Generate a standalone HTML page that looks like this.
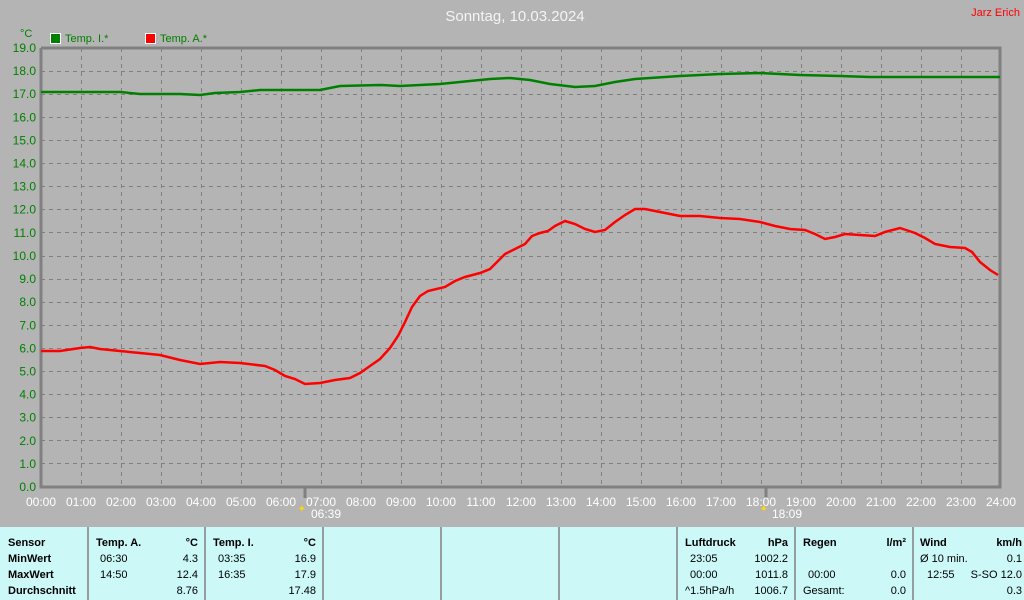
<!DOCTYPE html>
<html><head><meta charset="utf-8"><style>
html,body{margin:0;padding:0;background:#b4b4b4;width:1024px;height:600px;overflow:hidden;font-family:"Liberation Sans",sans-serif}
svg{position:absolute;left:0;top:0}
</style></head><body>
<svg width="1024" height="600" xmlns="http://www.w3.org/2000/svg" font-family="Liberation Sans, sans-serif">
<rect width="1024" height="600" fill="#b4b4b4"/>
<text x="515" y="21" fill="#f4f4f4" font-size="15" text-anchor="middle">Sonntag, 10.03.2024</text>
<text x="1020" y="16" fill="#ff0000" font-size="11" text-anchor="end">Jarz Erich</text>
<text x="20" y="37" fill="#008000" font-size="11">°C</text>
<rect x="50.5" y="33.5" width="10" height="10" fill="#008000" stroke="#fff"/>
<text x="65" y="42" fill="#008000" font-size="11">Temp. I.*</text>
<rect x="145.5" y="33.5" width="10" height="10" fill="#ff0000" stroke="#fff"/>
<text x="160" y="42" fill="#008000" font-size="11">Temp. A.*</text>
<g stroke="#808080" stroke-width="1" stroke-dasharray="4,4">
<line x1="41" x2="1000" y1="71.5" y2="71.5"/><line x1="41" x2="1000" y1="94.5" y2="94.5"/><line x1="41" x2="1000" y1="117.5" y2="117.5"/><line x1="41" x2="1000" y1="140.5" y2="140.5"/><line x1="41" x2="1000" y1="163.5" y2="163.5"/><line x1="41" x2="1000" y1="186.5" y2="186.5"/><line x1="41" x2="1000" y1="209.5" y2="209.5"/><line x1="41" x2="1000" y1="232.5" y2="232.5"/><line x1="41" x2="1000" y1="256.5" y2="256.5"/><line x1="41" x2="1000" y1="279.5" y2="279.5"/><line x1="41" x2="1000" y1="302.5" y2="302.5"/><line x1="41" x2="1000" y1="325.5" y2="325.5"/><line x1="41" x2="1000" y1="348.5" y2="348.5"/><line x1="41" x2="1000" y1="371.5" y2="371.5"/><line x1="41" x2="1000" y1="394.5" y2="394.5"/><line x1="41" x2="1000" y1="417.5" y2="417.5"/><line x1="41" x2="1000" y1="440.5" y2="440.5"/><line x1="41" x2="1000" y1="463.5" y2="463.5"/>
</g>
<g stroke="#808080" stroke-width="1" stroke-dasharray="4,4" id="vg"></g>
<g fill="none" stroke="#808080" stroke-width="3">
<polyline points="41,48 1000,48 1000,487 41,487 41,48"/>
</g>
<line x1="305" y1="487" x2="305" y2="498" stroke="#808080" stroke-width="3"/>
<line x1="766" y1="487" x2="766" y2="498" stroke="#808080" stroke-width="3"/>
<g id="yl" fill="#008000" font-size="12" text-anchor="end"></g>
<g id="xl" fill="#fff" font-size="12" text-anchor="middle"></g>
<text x="311" y="518" fill="#fff" font-size="12">06:39</text>
<text x="306" y="512" fill="#ffd800" font-size="10" text-anchor="end">✦</text>
<text x="772" y="518" fill="#fff" font-size="12">18:09</text>
<text x="768" y="512" fill="#ffd800" font-size="10" text-anchor="end">✦</text>
<polyline fill="none" stroke="#008000" stroke-width="2.5" points="41,92 120,92 140,94 180,94 200,95 215,93 240,92 260,90 320,90 340,86 380,85 400,86 420,85 440,84 460,82 490,79 510,78 530,80 550,84 575,87 595,86 615,82 635,79 680,76 720,74 760,73 780,74 800,75 840,76 870,77 1000,77"/>
<polyline fill="none" stroke="#ff0000" stroke-width="2.5" points="41,351 60,351 80,348 90,347 100,349 120,351 140,353 160,355 180,360 200,364 220,362 240,363 265,366 275,370 285,376 295,379 305,384 320,383 335,380 350,378 360,373 370,366 380,359 390,348 398,336 405,322 412,307 420,296 428,291 445,287 455,281 465,277 480,273 490,269 497,262 505,254 515,249 525,244 532,236 540,233 548,231 555,226 565,221 575,224 585,229 595,232 605,230 615,222 625,215 635,209 645,209 660,212 680,216 700,216 720,218 740,219 760,222 775,226 790,229 805,230 815,234 825,239 835,237 845,234 860,235 875,236 885,232 900,228 915,233 925,238 935,244 950,247 965,248 972,252 980,262 990,270 998,275"/>
<rect x="0" y="527" width="1024" height="73" fill="#ccf8f8"/>
<g stroke="#808080" stroke-width="1.5"><line x1="88" y1="527" x2="88" y2="600"/><line x1="205" y1="527" x2="205" y2="600"/><line x1="323" y1="527" x2="323" y2="600"/><line x1="441" y1="527" x2="441" y2="600"/><line x1="559" y1="527" x2="559" y2="600"/><line x1="677" y1="527" x2="677" y2="600"/><line x1="795" y1="527" x2="795" y2="600"/><line x1="913" y1="527" x2="913" y2="600"/></g>
<g font-size="11" fill="#000">
<g font-weight="bold"><text x="8" y="546">Sensor</text><text x="8" y="562">MinWert</text><text x="8" y="578">MaxWert</text><text x="8" y="594">Durchschnitt</text>
<text x="96" y="546">Temp. A.</text><text x="198" y="546" text-anchor="end">°C</text>
<text x="213" y="546">Temp. I.</text><text x="316" y="546" text-anchor="end">°C</text>
<text x="685" y="546">Luftdruck</text><text x="788" y="546" text-anchor="end">hPa</text>
<text x="803" y="546">Regen</text><text x="906" y="546" text-anchor="end">l/m²</text>
<text x="920" y="546">Wind</text><text x="1022" y="546" text-anchor="end">km/h</text></g>
<text x="100" y="562">06:30</text><text x="198" y="562" text-anchor="end">4.3</text>
<text x="100" y="578">14:50</text><text x="198" y="578" text-anchor="end">12.4</text>
<text x="198" y="594" text-anchor="end">8.76</text>
<text x="218" y="562">03:35</text><text x="316" y="562" text-anchor="end">16.9</text>
<text x="218" y="578">16:35</text><text x="316" y="578" text-anchor="end">17.9</text>
<text x="316" y="594" text-anchor="end">17.48</text>
<text x="690" y="562">23:05</text><text x="788" y="562" text-anchor="end">1002.2</text>
<text x="690" y="578">00:00</text><text x="788" y="578" text-anchor="end">1011.8</text>
<text x="685" y="594">^1.5hPa/h</text><text x="788" y="594" text-anchor="end">1006.7</text>
<text x="808" y="578">00:00</text><text x="906" y="578" text-anchor="end">0.0</text>
<text x="803" y="594">Gesamt:</text><text x="906" y="594" text-anchor="end">0.0</text>
<text x="920" y="562">Ø 10 min.</text><text x="1022" y="562" text-anchor="end">0.1</text>
<text x="927" y="578">12:55</text><text x="1022" y="578" text-anchor="end">S-SO 12.0</text>
<text x="1022" y="594" text-anchor="end">0.3</text>
</g>
</svg>
<script>
var ns="http://www.w3.org/2000/svg";
var vg=document.getElementById("vg"),yl=document.getElementById("yl"),xl=document.getElementById("xl");
for(var h=1;h<24;h++){var x=41+h*40+0.5;var l=document.createElementNS(ns,"line");l.setAttribute("x1",x);l.setAttribute("x2",x);l.setAttribute("y1",48);l.setAttribute("y2",487);vg.appendChild(l);}
for(var h=0;h<=24;h++){var t=document.createElementNS(ns,"text");t.setAttribute("x",41+h*40);t.setAttribute("y",506);t.textContent=(h<10?"0":"")+h+":00";xl.appendChild(t);}
for(var v=0;v<=19;v++){var y=487-v*439/19;var t=document.createElementNS(ns,"text");t.setAttribute("x",36);t.setAttribute("y",y+4);t.textContent=v+".0";yl.appendChild(t);}
</script>
</body></html>
